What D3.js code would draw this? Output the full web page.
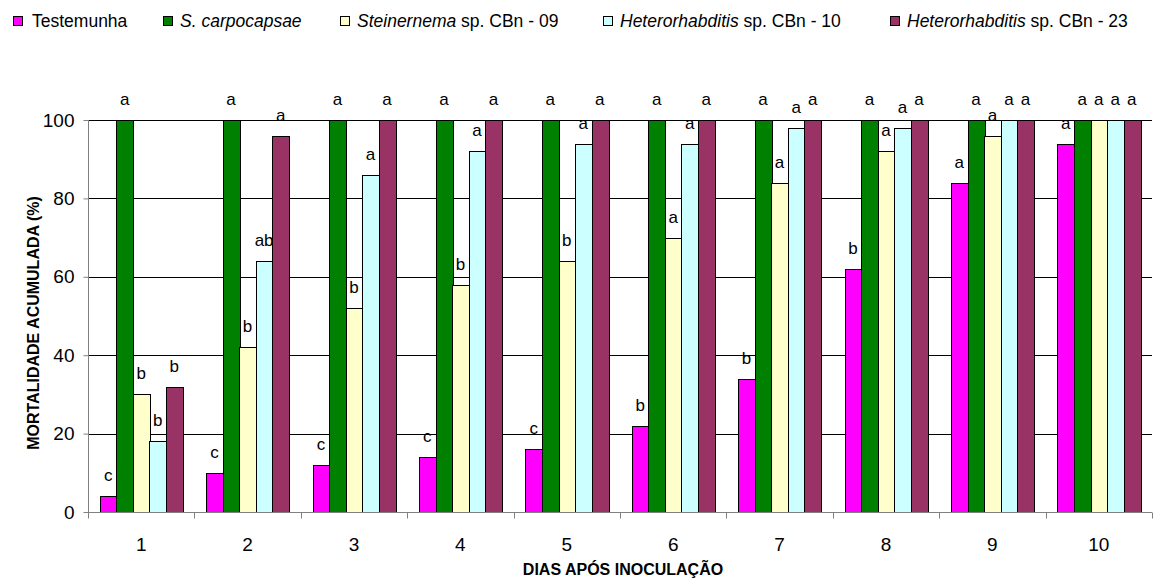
<!DOCTYPE html>
<html><head><meta charset="utf-8">
<script src="https://cdn.jsdelivr.net/npm/d3@7"></script>
<style>body{margin:0;background:#fff}svg{display:block;font-family:Arial,"Liberation Sans",sans-serif}</style>
</head><body><svg id="c" width="1156" height="585"></svg>
<script>
const days = ["1","2","3","4","5","6","7","8","9","10"];
const seriesNames = ["Testemunha","S. carpocapsae","Steinernema sp. CBn - 09","Heterorhabditis sp. CBn - 10","Heterorhabditis sp. CBn - 23"];
const testemunha = [4,10,12,14,16,22,34,62,84,94];
const carpocapsae = [100,100,100,100,100,100,100,100,100,100];
const cbn09 = [30,42,52,58,64,70,84,92,96,100];
const cbn10 = [18,64,86,92,94,94,98,98,100,100];
const cbn23 = [32,96,100,100,100,100,100,100,100,100];
const lettersT = ["c","c","c","c","c","b","b","b","a","a"];
const lettersSc = ["a","a","a","a","a","a","a","a","a","a"];
const letters09 = ["b","b","b","b","b","a","a","a","a","a"];
const letters10 = ["b","ab","a","a","a","a","a","a","a","a"];
const letters23 = ["b","a","a","a","a","a","a","a","a","a"];
const yTicks = [0,20,40,60,80,100];
const colors = ["#FF00FF","#008000","#FFFFCC","#CCFFFF","#993366"];

const values = [testemunha,carpocapsae,cbn09,cbn10,cbn23];
const letters = [lettersT,lettersSc,letters09,letters10,letters23];

const svg = d3.select("#c");
const L=88, R=1152, T=120, B=512;
const x0 = d3.scaleBand().domain(days).range([L,R]).paddingInner(0).paddingOuter(0);
const x1 = d3.scaleBand().domain(d3.range(5)).range([0,x0.bandwidth()]).paddingInner(0).paddingOuter(0.72);
const y = d3.scaleLinear().domain([0,100]).range([B,T]);

// gridlines
svg.append("g").selectAll("line").data(yTicks.filter(d=>d>0)).join("line")
  .attr("x1",L).attr("x2",R).attr("y1",d=>Math.round(y(d))+0.5).attr("y2",d=>Math.round(y(d))+0.5)
  .attr("stroke","#000").attr("stroke-width",1);

// bars
const g = svg.append("g");
days.forEach((d,i)=>{
  values.forEach((arr,s)=>{
    const v = arr[i];
    const bx = x0(d)+x1(s);
    g.append("rect").attr("x",Math.round(bx)+0.5).attr("y",Math.round(y(v))+0.5)
      .attr("width",Math.round(x1.bandwidth())).attr("height",Math.round(y(0))-Math.round(y(v)))
      .attr("fill",colors[s]).attr("stroke","#000").attr("stroke-width",1);
    g.append("text").attr("x",bx+x1.bandwidth()/2).attr("y",y(v)-15)
      .attr("text-anchor","middle").attr("font-size",17).attr("fill","#000").text(letters[s][i]);
  });
});

// y axis
const ya = svg.append("g").attr("transform",`translate(${L+0.5},0)`)
  .call(d3.axisLeft(y).tickValues(yTicks).tickSize(5).tickPadding(9));
ya.select(".domain").attr("stroke","#808080").attr("d",`M0,${T}V${B+0.5}`);
ya.selectAll(".tick line").attr("stroke","#808080");
ya.selectAll("text").attr("font-size",19).attr("font-family","Arial, Liberation Sans").attr("fill","#000");

// x axis
const xa = svg.append("g").attr("transform",`translate(0,${Math.round(B)+0.5})`);
xa.append("line").attr("x1",L).attr("x2",R).attr("stroke","#808080");
xa.selectAll(".tk").data(days.concat(["end"])).join("line")
  .attr("x1",(d,i)=>Math.round(L+i*x0.bandwidth())+0.5).attr("x2",(d,i)=>Math.round(L+i*x0.bandwidth())+0.5)
  .attr("y1",0).attr("y2",6).attr("stroke","#808080");
xa.selectAll("text").data(days).join("text")
  .attr("x",d=>x0(d)+x0.bandwidth()/2).attr("y",38).attr("text-anchor","middle")
  .attr("font-size",19).text(d=>d);

// axis titles
svg.append("text").attr("x",623).attr("y",575).attr("text-anchor","middle")
  .attr("font-size",16).attr("font-weight","bold").text("DIAS APÓS INOCULAÇÃO");
svg.append("text").attr("transform","translate(39,323) rotate(-90)").attr("text-anchor","middle")
  .attr("font-size",16).attr("font-weight","bold").text("MORTALIDADE ACUMULADA (%)");

// legend
const legX = [13,163,340,603,890];
const lg = svg.append("g");
seriesNames.forEach((n,i)=>{
  lg.append("rect").attr("x",legX[i]+0.5).attr("y",16.5).attr("width",9).attr("height",9)
    .attr("fill",colors[i]).attr("stroke","#000");
  const t = lg.append("text").attr("x",legX[i]+(i===0?19:17)).attr("y",27).attr("font-size",17.5);
  if(i===0) t.text(n);
  else if(i===1) t.append("tspan").attr("font-style","italic").text(n);
  else {
    const parts = n.split(" sp. ");
    t.append("tspan").attr("font-style","italic").text(parts[0]);
    t.append("tspan").text(" sp. "+parts[1]);
  }
});
</script></body></html>
